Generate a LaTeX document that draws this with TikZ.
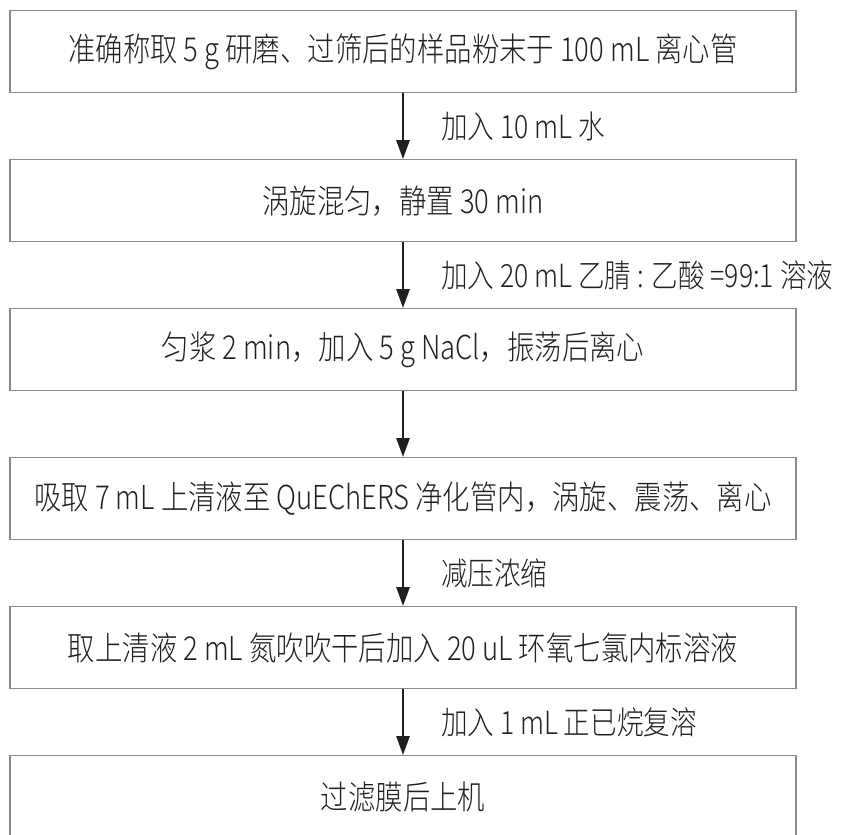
\documentclass[tikz,border=0pt]{standalone}
\usepackage{fontspec}
\setmainfont{Noto Sans CJK SC}[FakeStretch=0.83, UprightFont=* Light]
\usetikzlibrary{arrows.meta}
\definecolor{boxgray}{HTML}{8A8A8A}
\definecolor{ink}{HTML}{231F20}
\begin{document}
\begin{tikzpicture}[x=1pt,y=-1pt,
  box/.style={draw=boxgray, line width=1.3pt, minimum width=786pt, minimum height=82pt,
    inner sep=0pt, font=\fontsize{33}{40}\selectfont, text=ink},
  lbl/.style={anchor=west, inner sep=0pt, font=\fontsize{32}{40}\selectfont, text=ink},
  flow/.style={draw=ink, line width=2.8pt, -{Triangle[width=13pt,length=19pt]}}]
\useasboundingbox (0,0) rectangle (850,834);
\node[box] (b1) at (403,51.8)  {准确称取 5 g 研磨、过筛后的样品粉末于 100 mL 离心管};
\node[box] (b2) at (403,200.8) {涡旋混匀，静置 30 min};
\node[box] (b3) at (403,349.7) {匀浆 2 min，加入 5 g NaCl，振荡后离心};
\node[box] (b4) at (403,498.7) {吸取 7 mL 上清液至 QuEChERS 净化管内，涡旋、震荡、离心};
\node[box] (b5) at (403,647.7) {取上清液 2 mL 氮吹吹干后加入 20 uL 环氧七氯内标溶液};
\node[box] (b6) at (403,796.7) {过滤膜后上机};
\draw[flow] (b1.south) -- (b2.north);
\draw[flow] (b2.south) -- (b3.north);
\draw[flow] (b3.south) -- (b4.north);
\draw[flow] (b4.south) -- (b5.north);
\draw[flow] (b5.south) -- (b6.north);
\node[lbl] (l1) at (441,126.3) {加入 10 mL 水};
\node[lbl] (l2) at (441,275.6) {加入 20 mL 乙腈 : 乙酸 =99:1 溶液};
\node[lbl] (l4) at (441,573.3) {减压浓缩};
\node[lbl] (l5) at (441,722.3) {加入 1 mL 正已烷复溶};
\end{tikzpicture}
\end{document}
